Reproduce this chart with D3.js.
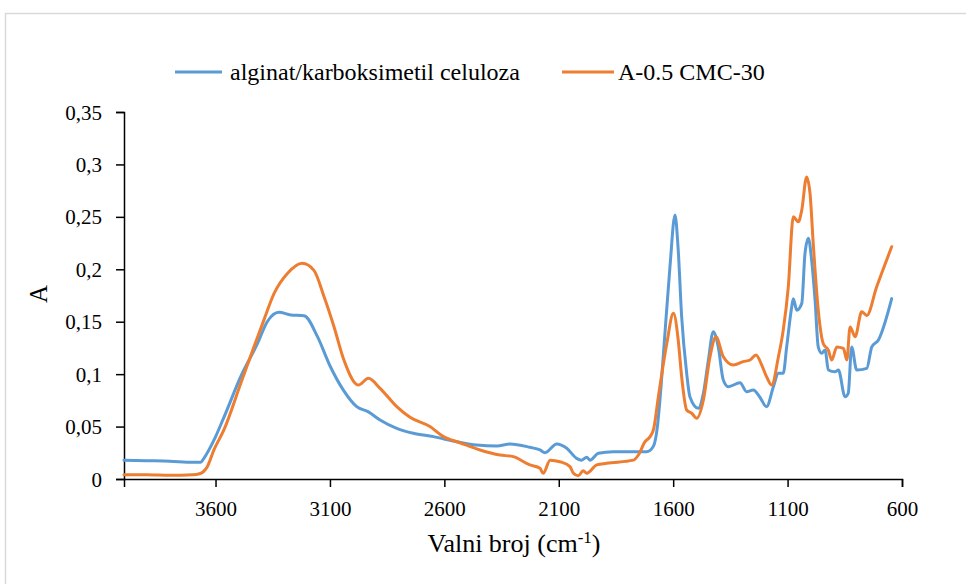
<!DOCTYPE html>
<html>
<head>
<meta charset="utf-8">
<script src="https://cdn.jsdelivr.net/npm/d3@7"></script>
<style>
  html, body { margin: 0; padding: 0; background: #ffffff; }
  svg { display: block; }
  text { font-family: "Liberation Serif", "Times New Roman", serif; fill: #000; }
</style>
</head>
<body>
<svg id="chart" width="966" height="584"></svg>
<script>
// ---- data ----
const seriesNames = ["alginat/karboksimetil celuloza", "A-0.5 CMC-30"];

const blueWave = [4000, 3900, 3800, 3700, 3665, 3650, 3607, 3563, 3490, 3417, 3374, 3323, 3271, 3213, 3155, 3100, 3042, 2983, 2932, 2881, 2808, 2736, 2648, 2546, 2459, 2371, 2313, 2226, 2182, 2160, 2109, 2065, 2022, 2000, 1978, 1964, 1927, 1862, 1760, 1716, 1687, 1669, 1658, 1636, 1614, 1592, 1578, 1563, 1541, 1527, 1490, 1468, 1446, 1425, 1403, 1381, 1359, 1308, 1279, 1250, 1221, 1192, 1162, 1140, 1119, 1104, 1082, 1075, 1060, 1038, 1024, 1009, 995, 980, 966, 951, 936, 922, 893, 878, 849, 835, 820, 798, 754, 732, 703, 645];
const blueAbs = [0.018, 0.0175, 0.017, 0.016, 0.016, 0.020, 0.037, 0.059, 0.0976, 0.129, 0.150, 0.159, 0.1564, 0.1557, 0.136, 0.108, 0.085, 0.069, 0.064, 0.0563, 0.0483, 0.0436, 0.0404, 0.0356, 0.0324, 0.0315, 0.0334, 0.0302, 0.0277, 0.0251, 0.0334, 0.0293, 0.0197, 0.018, 0.0207, 0.018, 0.0245, 0.026, 0.026, 0.026, 0.031, 0.050, 0.075, 0.139, 0.2025, 0.2518, 0.2184, 0.155, 0.1008, 0.0785, 0.0674, 0.0817, 0.1135, 0.1405, 0.126, 0.0944, 0.088, 0.0918, 0.0833, 0.0849, 0.078, 0.069, 0.088, 0.1008, 0.1008, 0.126, 0.164, 0.172, 0.161, 0.1675, 0.215, 0.2295, 0.2088, 0.1707, 0.126, 0.1199, 0.123, 0.104, 0.1023, 0.104, 0.0785, 0.0817, 0.126, 0.104, 0.1055, 0.126, 0.1326, 0.172];

const orangeWave = [4000, 3900, 3800, 3700, 3670, 3636, 3607, 3563, 3490, 3432, 3388, 3344, 3286, 3221, 3170, 3126, 3082, 3039, 2976, 2932, 2881, 2808, 2750, 2663, 2604, 2532, 2444, 2357, 2299, 2226, 2182, 2168, 2138, 2095, 2051, 2036, 2015, 1993, 1978, 1934, 1891, 1774, 1752, 1723, 1701, 1685, 1665, 1628, 1599, 1578, 1563, 1541, 1519, 1497, 1468, 1439, 1413, 1381, 1337, 1294, 1264, 1238, 1213, 1192, 1170, 1140, 1119, 1097, 1075, 1053, 1038, 1017, 1002, 988, 966, 944, 922, 907, 885, 856, 841, 827, 805, 776, 754, 711, 645];
const orangeAbs = [0.004, 0.004, 0.0035, 0.004, 0.005, 0.0117, 0.0277, 0.047, 0.091, 0.126, 0.152, 0.177, 0.196, 0.2057, 0.199, 0.174, 0.145, 0.1135, 0.0896, 0.096, 0.0865, 0.069, 0.0588, 0.050, 0.0404, 0.0346, 0.0277, 0.0229, 0.0213, 0.0134, 0.0102, 0.0054, 0.018, 0.0165, 0.0118, 0.0054, 0.003, 0.0079, 0.0054, 0.0134, 0.015, 0.018, 0.0229, 0.0356, 0.0404, 0.048, 0.078, 0.129, 0.158, 0.1326, 0.0976, 0.0658, 0.0627, 0.0579, 0.0753, 0.1166, 0.1357, 0.1166, 0.1087, 0.1119, 0.1135, 0.1183, 0.1087, 0.0976, 0.0896, 0.1166, 0.142, 0.183, 0.250, 0.2454, 0.2565, 0.288, 0.2724, 0.2248, 0.161, 0.129, 0.123, 0.1135, 0.126, 0.1246, 0.1135, 0.145, 0.1357, 0.1595, 0.156, 0.183, 0.2215];

const xTicks = [3600, 3100, 2600, 2100, 1600, 1100, 600];
const xTickLabels = ["3600", "3100", "2600", "2100", "1600", "1100", "600"];
const yTicks = [0, 0.05, 0.1, 0.15, 0.2, 0.25, 0.3, 0.35];
const yTickLabels = ["0", "0,05", "0,1", "0,15", "0,2", "0,25", "0,3", "0,35"];
const colors = ["#5B9BD5", "#ED7D31"];

// ---- layout ----
const svg = d3.select("#chart");
const plot = { left: 124, right: 902, top: 112, bottom: 479 };

svg.append("rect")
  .attr("x", 5.5).attr("y", 13.5)
  .attr("width", 980).attr("height", 600)
  .attr("fill", "#fff").attr("stroke", "#d9d9d9").attr("stroke-width", 1.5);

const x = d3.scaleLinear().domain([4000, 600]).range([plot.left, plot.right]);
const y = d3.scaleLinear().domain([0, 0.35]).range([plot.bottom, plot.top]);

// lines
const line = d3.line()
  .x(d => x(d[0]))
  .y(d => y(d[1]))
  .curve(d3.curveMonotoneX);

const series = [
  blueWave.map((w, i) => [w, blueAbs[i]]),
  orangeWave.map((w, i) => [w, orangeAbs[i]])
];

// axes
const xAxis = d3.axisBottom(x)
  .tickValues(xTicks)
  .tickFormat((d, i) => xTickLabels[i])
  .tickSizeOuter(0)
  .tickSize(8);
const gx = svg.append("g")
  .attr("transform", `translate(0,${plot.bottom})`)
  .call(xAxis);
gx.select(".domain").attr("stroke", "#000").attr("stroke-width", 1.5);
gx.selectAll(".tick line").attr("stroke", "#000").attr("stroke-width", 1.5);
gx.selectAll(".tick text")
  .attr("y", 37).attr("dy", 0)
  .style("font-family", "'Liberation Serif', serif")
  .style("font-size", "21px");

const yAxis = d3.axisLeft(y)
  .tickValues(yTicks)
  .tickFormat((d, i) => yTickLabels[i])
  .tickSizeOuter(0)
  .tickSize(8);
const gy = svg.append("g")
  .attr("transform", `translate(${plot.left},0)`)
  .call(yAxis);
gy.select(".domain").attr("stroke", "#000").attr("stroke-width", 1.5);
gy.selectAll(".tick line").attr("stroke", "#000").attr("stroke-width", 1.5);
gy.selectAll(".tick text")
  .attr("x", -22).attr("dy", "0.34em")
  .style("font-family", "'Liberation Serif', serif")
  .style("font-size", "21px");

// series lines drawn above axes
series.forEach((s, i) => {
  svg.append("path")
    .datum(s)
    .attr("fill", "none")
    .attr("stroke", colors[i])
    .attr("stroke-width", 3)
    .attr("stroke-linejoin", "round")
    .attr("stroke-linecap", "round")
    .attr("d", line);
});

// axis titles
svg.append("text")
  .attr("transform", "translate(47,294) rotate(-90)")
  .attr("text-anchor", "middle")
  .style("font-size", "25px")
  .text("A");

const xt = svg.append("text")
  .attr("x", 514).attr("y", 552)
  .attr("text-anchor", "middle")
  .style("font-size", "26px");
xt.append("tspan").text("Valni broj (cm");
xt.append("tspan").attr("dy", -9).style("font-size", "17px").text("-1");
xt.append("tspan").attr("dy", 9).text(")");

// legend
const legendItems = [
  { x1: 175, x2: 222, tx: 230 },
  { x1: 562, x2: 614, tx: 618 }
];
legendItems.forEach((it, i) => {
  svg.append("line")
    .attr("x1", it.x1).attr("x2", it.x2)
    .attr("y1", 72).attr("y2", 72)
    .attr("stroke", colors[i]).attr("stroke-width", 3);
  svg.append("text")
    .attr("x", it.tx).attr("y", 80)
    .style("font-size", "24px")
    .text(seriesNames[i]);
});
</script>
</body>
</html>
